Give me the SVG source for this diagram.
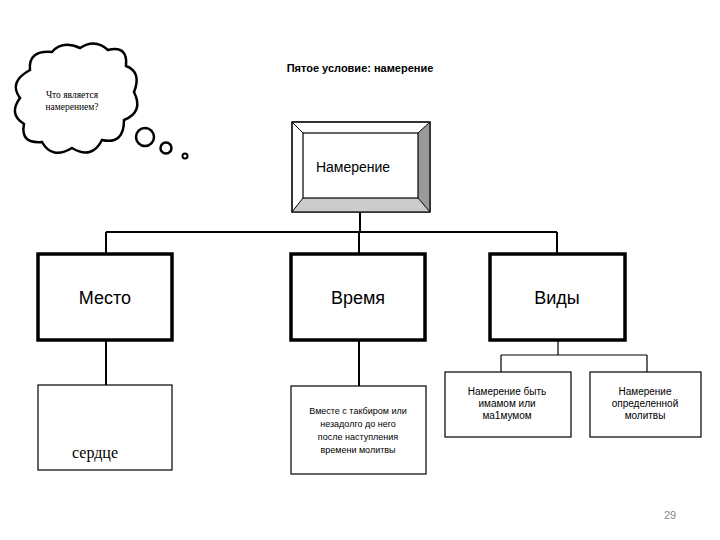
<svg xmlns="http://www.w3.org/2000/svg" width="720" height="540" viewBox="0 0 720 540">
<style>
.s{font-family:"Liberation Sans",Arial,sans-serif;fill:#000}
.thick{fill:#fff;stroke:#000;stroke-width:3.5}
.thin{fill:#fff;stroke:#000;stroke-width:1.2}
.c{fill:none;stroke:#000;stroke-width:2}
</style>
<rect width="720" height="540" fill="#fff"/>
<text class="s" x="360" y="72" font-size="11" font-weight="bold" text-anchor="middle">Пятое условие: намерение</text>
<g id="cloud">
<path d="M30,70 Q28,50 52,52 Q62,40 80,48 Q95,38 108,50 Q128,45 126,66 Q142,72 134,92 Q144,112 124,120 Q124,145 102,140 Q92,160 72,148 Q52,160 42,142 Q20,144 24,124 Q8,114 20,98 Q8,82 30,70 Z" fill="#fff" stroke="#000" stroke-width="2.5"/>
<circle cx="145" cy="137" r="9" fill="#fff" stroke="#000" stroke-width="2.5"/>
<circle cx="166" cy="148" r="5.5" fill="#fff" stroke="#000" stroke-width="2.5"/>
<circle cx="185" cy="156" r="2.5" fill="#fff" stroke="#000" stroke-width="2"/>
<text x="72" y="98" font-family="Liberation Serif,serif" font-size="9.5" text-anchor="middle">Что является</text>
<text x="72" y="110" font-family="Liberation Serif,serif" font-size="9.5" text-anchor="middle">намерением?</text>
</g>
<g id="connectors" class="c">
<path d="M360,212V232M106,232H557M106,232V253M359,232V253M557,232V253" />
<path d="M106,340V385M359,340V386"/>
<path d="M558,340V355M501,355H647M501,355V372M647,355V372" stroke-width="1.2"/>
</g>
<g id="root">
<rect x="292" y="122" width="138" height="90" fill="#fff" stroke="#000" stroke-width="1"/>
<polygon points="418,133 430,122 430,212 418,198" fill="#999"/>
<polygon points="303,198 418,198 430,212 292,212" fill="#ccc"/>
<rect x="292" y="122" width="138" height="90" fill="none" stroke="#000" stroke-width="1.2"/>
<rect x="303" y="133" width="115" height="65" fill="#fff" stroke="#000" stroke-width="1.2"/>
<path d="M292,122L303,133M430,122L418,133M292,212L303,198M430,212L418,198" stroke="#000" stroke-width="1"/>
<text class="s" x="353" y="172" font-size="14" text-anchor="middle">Намерение</text>
</g>
<g id="mesto"><rect class="thick" x="38" y="254" width="134" height="86"/><text class="s" x="105" y="304" font-size="18" text-anchor="middle">Место</text></g>
<g id="vremya"><rect class="thick" x="291" y="254" width="134" height="86"/><text class="s" x="358" y="304" font-size="18" text-anchor="middle">Время</text></g>
<g id="vidy"><rect class="thick" x="490" y="254" width="135" height="86"/><text class="s" x="557" y="304" font-size="18" text-anchor="middle">Виды</text></g>
<g id="serdtse"><rect class="thin" x="38" y="385" width="134" height="85"/><text x="95" y="458" font-family="Liberation Serif,serif" font-size="16" text-anchor="middle">сердце</text></g>
<g id="vmeste"><rect class="thin" x="291" y="386" width="135" height="88"/>
<text class="s" font-size="9" text-anchor="middle"><tspan x="358" y="414">Вместе с такбиром или</tspan><tspan x="358" y="427">незадолго до него</tspan><tspan x="358" y="440">после наступления</tspan><tspan x="358" y="453">времени молитвы</tspan></text></g>
<g id="imam"><rect class="thin" x="445" y="372" width="126" height="65"/>
<text class="s" font-size="10" text-anchor="middle"><tspan x="507" y="395">Намерение быть</tspan><tspan x="507" y="407">имамом или</tspan><tspan x="507" y="419">ма1мумом</tspan></text></g>
<g id="opr"><rect class="thin" x="590" y="372" width="111" height="65"/>
<text class="s" font-size="10" text-anchor="middle"><tspan x="645" y="395">Намерение</tspan><tspan x="645" y="407">определенной</tspan><tspan x="645" y="419">молитвы</tspan></text></g>
<text class="s" x="670" y="519" font-size="11" style="fill:#888" text-anchor="middle">29</text>
</svg>
